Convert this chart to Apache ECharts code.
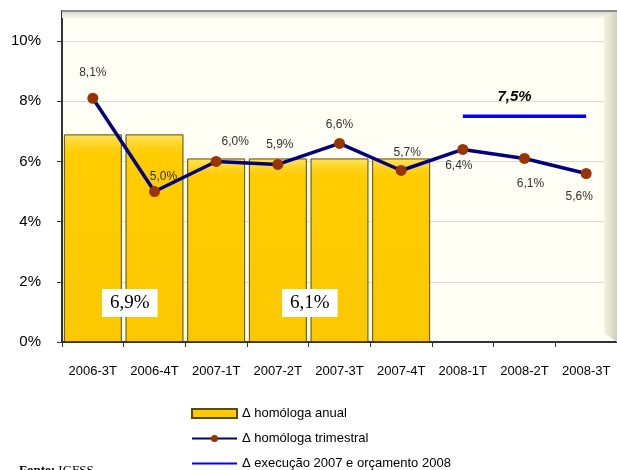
<!DOCTYPE html>
<html lang="pt">
<head>
    <meta charset="UTF-8">
    <title>Δ homóloga</title>
    <script src="https://cdn.jsdelivr.net/npm/echarts@6/dist/echarts.min.js"></script>
    <style>
        html, body { margin: 0; padding: 0; background: #fff; }
        #chart { width: 617px; height: 470px; }
    </style>
</head>
<body>
<div id="chart"></div>
<script type="text/javascript">
    // dados
    var categorias = ['2006-3T', '2006-4T', '2007-1T', '2007-2T', '2007-3T', '2007-4T', '2008-1T', '2008-2T', '2008-3T'];
    var anual = [6.9, 6.9, 6.1, 6.1, 6.1, 6.1, '-', '-', '-'];
    var trimestral = [8.1, 5.0, 6.0, 5.9, 6.6, 5.7, 6.4, 6.1, 5.6];
    var orcamento = ['-', '-', '-', '-', '-', '-', 7.5, 7.5, 7.5];
    var yTicks = ['0%', '2%', '4%', '6%', '8%', '10%'];
    var nomes = ['\u0394 homóloga anual', '\u0394 homóloga trimestral', '\u0394 execução 2007 e orçamento 2008'];

    var fmt = function (v) { return v.toFixed(1).replace('.', ',') + '%'; };

    var chart = echarts.init(document.getElementById('chart'));

    // caixas de texto com a média anual (ficam nas barras 0 e 3)
    var caixa = {
        show: true,
        position: 'insideBottom',
        distance: 25,
        fontFamily: 'Liberation Serif',
        fontSize: 19,
        color: '#000',
        backgroundColor: '#fff',
        padding: [5, 8, 4, 8],
        formatter: function (p) { return fmt(p.value); }
    };
    var barData = anual.map(function (v, i) {
        if (i === 0) return { value: v, label: Object.assign({}, caixa, { offset: [37, 0] }) };
        if (i === 3) return { value: v, label: Object.assign({}, caixa, { offset: [32, 0] }) };
        return v;
    });

    // rótulos da linha trimestral: acima/abaixo e pequenos deslocamentos
    var rotPos = ['top', 'top', 'top', 'top', 'top', 'top', 'bottom', 'bottom', 'bottom'];
    var rotDist = [14, 3, 8, 8, 7, 6, 5, 14, 12];
    var rotOff = [0, 9, 19, 2, 0, 6, -4, 6, -7];
    var linhaData = trimestral.map(function (v, i) {
        return { value: v, label: { position: rotPos[i], distance: rotDist[i], offset: [rotOff[i], 0] } };
    });

    var azulData = orcamento.map(function (v, i) {
        if (i === 7) return { value: v, label: { show: true } };
        return v;
    });

    var option = {
        backgroundColor: '#fff',
        animation: false,
        textStyle: { fontFamily: 'Liberation Sans' },
        title: {
            text: '{b|Fonte:} IGFSS',
            left: 14,
            top: 459,
            textStyle: {
                fontFamily: 'Liberation Serif',
                fontSize: 13,
                fontWeight: 'normal',
                color: '#000',
                rich: { b: { fontFamily: 'Liberation Serif', fontSize: 13, fontWeight: 'bold', color: '#000' } }
            }
        },
        legend: {
            data: [
                { name: nomes[0], icon: 'rect' },
                { name: nomes[1] },
                { name: nomes[2], itemStyle: { opacity: 0 } }
            ],
            orient: 'vertical',
            left: 191,
            top: 406,
            height: 80,
            padding: 0,
            itemGap: 10,
            itemWidth: 45,
            itemHeight: 9,
            textStyle: { fontFamily: 'Liberation Sans', fontSize: 13, lineHeight: 15, color: '#000' }
        },
        grid: {
            left: 62,
            right: 0,
            top: 11,
            bottom: 128,
            show: true,
            backgroundColor: '#fffff6',
            borderWidth: 0
        },
        graphic: [
            // parede lateral direita
            {
                type: 'polygon',
                silent: true,
                z: 1,
                shape: { points: [[604, 17], [617, 11], [617, 342], [604, 333]] },
                style: {
                    fill: new echarts.graphic.LinearGradient(0, 0, 1, 0, [
                        { offset: 0, color: '#f4f4dc' },
                        { offset: 1, color: '#cfcfc0' }
                    ])
                }
            },
            // faixa superior
            {
                type: 'polygon',
                silent: true,
                z: 1,
                shape: { points: [[62, 11], [617, 11], [604, 18], [62, 18]] },
                style: {
                    fill: new echarts.graphic.LinearGradient(0, 0, 0, 1, [
                        { offset: 0, color: '#d6d6cc' },
                        { offset: 1, color: '#f6f6ea' }
                    ])
                }
            },
            {
                type: 'line',
                silent: true,
                z: 2,
                shape: { x1: 62, y1: 11, x2: 617, y2: 11 },
                style: { stroke: '#8c8c8c', lineWidth: 2 }
            }
        ],
        xAxis: {
            type: 'category',
            data: categorias,
            axisLine: { lineStyle: { color: '#333', width: 2 } },
            axisTick: { show: true, length: 5, interval: 0, lineStyle: { color: '#333' } },
            axisLabel: { color: '#000', fontSize: 13, margin: 23, interval: 0, hideOverlap: false }
        },
        yAxis: {
            type: 'value',
            min: 0,
            max: 11,
            interval: 2,
            axisLine: { show: true, lineStyle: { color: '#333', width: 2 } },
            axisTick: { show: true, length: 5, lineStyle: { color: '#333' } },
            axisLabel: {
                color: '#000',
                fontSize: 15,
                margin: 21,
                showMaxLabel: false,
                formatter: function (v) { return yTicks[v / 2] || ''; }
            },
            splitLine: { lineStyle: { color: '#d9d9d6', width: 1 } }
        },
        series: [
            {
                name: nomes[0],
                type: 'bar',
                barCategoryGap: '6%',
                z: 3,
                itemStyle: {
                    color: new echarts.graphic.LinearGradient(0, 0, 0, 1, [
                        { offset: 0, color: '#ffe35c' },
                        { offset: 0.06, color: '#ffd21a' },
                        { offset: 0.1, color: '#ffcc00' },
                        { offset: 1, color: '#fbc800' }
                    ]),
                    borderColor: '#5c4a00',
                    borderWidth: 1
                },
                data: barData
            },
            {
                name: nomes[1],
                type: 'line',
                z: 5,
                symbol: 'circle',
                symbolSize: 11,
                lineStyle: { color: '#000080', width: 3.5 },
                itemStyle: { color: '#993300' },
                label: {
                    show: true,
                    color: '#333',
                    fontSize: 12,
                    formatter: function (p) { return fmt(p.value); }
                },
                data: linhaData
            },
            {
                name: nomes[2],
                type: 'line',
                z: 4,
                symbol: 'circle',
                symbolSize: 0,
                lineStyle: { color: '#0000ff', width: 3.5 },
                itemStyle: { color: '#0000ff' },
                label: {
                    show: false,
                    position: 'top',
                    distance: 12,
                    offset: [-10, 0],
                    color: '#000',
                    fontSize: 15,
                    fontWeight: 'bold',
                    fontStyle: 'italic',
                    formatter: function (p) { return fmt(p.value); }
                },
                data: azulData
            }
        ]
    };

    chart.setOption(option);
</script>
</body>
</html>
